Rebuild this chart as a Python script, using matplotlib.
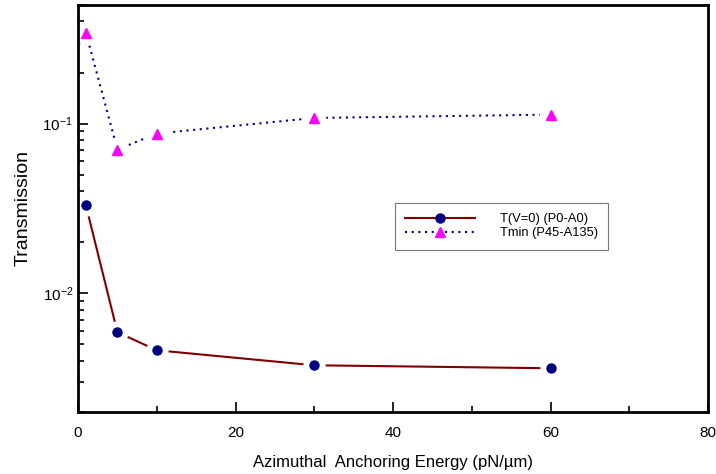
import matplotlib
matplotlib.use("Agg")
import matplotlib.pyplot as plt
from matplotlib.ticker import LogLocator, NullFormatter, MultipleLocator
from matplotlib.lines import Line2D

plt.rcParams['font.family'] = ['Liberation Sans', 'DejaVu Sans']
plt.rcParams['mathtext.fontset'] = 'custom'
plt.rcParams['mathtext.rm'] = 'Liberation Sans'
plt.rcParams['mathtext.it'] = 'Liberation Sans:italic'
plt.rcParams['mathtext.bf'] = 'Liberation Sans:bold'

x = [1, 5, 10, 30, 60]
t_v0 = [0.033, 0.0059, 0.00462, 0.00377, 0.00362]
t_min = [0.343, 0.0703, 0.0874, 0.108, 0.113]

fig = plt.figure(figsize=(7.16, 4.74), dpi=100)
ax = fig.add_axes([0.109, 0.1308, 0.880, 0.8587])

red = '#800000'
navy = '#000080'
mag = '#ff00ff'

ax.plot(x, t_v0, color=red, lw=1.5, zorder=2)
ax.plot(x, t_min, color=navy, lw=1.5, ls=(0, (1, 2.2)), zorder=2)
# white gaps around markers
ax.plot(x, t_v0, ls='none', marker='o', ms=16, mfc='white', mec='none', zorder=3)
ax.plot(x, t_min, ls='none', marker='o', ms=17, mfc='white', mec='none', zorder=3)
ax.plot(x, t_v0, ls='none', marker='o', ms=6.5, mfc=navy, mec=navy, zorder=4)
ax.plot(x, t_min, ls='none', marker='^', ms=7.5, mfc=mag, mec=mag, zorder=4)

ax.set_yscale('log')
ax.set_xlim(0, 80)
ax.set_ylim(0.002, 0.5)
ax.xaxis.set_major_locator(MultipleLocator(20))
ax.xaxis.set_minor_locator(MultipleLocator(10))
ax.yaxis.set_major_locator(LogLocator(base=10, numticks=10))
ax.yaxis.set_minor_locator(LogLocator(base=10, subs=range(2, 10), numticks=20))
ax.yaxis.set_minor_formatter(NullFormatter())

ax.tick_params(which='both', direction='in', top=False, right=False, labelsize=11, width=1.2)
ax.tick_params(which='major', length=7)
ax.tick_params(which='minor', length=4)
ax.tick_params(axis='x', pad=10)
for s in ax.spines.values():
    s.set_linewidth(2)
    s.set_zorder(6)

ax.set_xlabel('Azimuthal  Anchoring Energy (pN/\u00b5m)', fontsize=12, labelpad=11)
ax.set_ylabel('Transmission', fontsize=14, labelpad=8)

handles = [
    Line2D([], [], color=red, lw=1.5, marker='o', ms=6.5, mfc=navy, mec=navy),
    Line2D([], [], color=navy, lw=1.5, ls=(0, (1, 2.2)), marker='^', ms=7.5, mfc=mag, mec=mag),
]
labels = ['T(V=0) (P0-A0)', 'Tmin (P45-A135)']
leg = ax.legend(handles, labels, loc='upper left', bbox_to_anchor=(395/716, 1 - 203/474),
                bbox_transform=fig.transFigure, fontsize=9.3, frameon=True,
                fancybox=False, edgecolor='#555555', handlelength=5.4,
                borderpad=0.8, labelspacing=0.15, handletextpad=1.9, borderaxespad=0)
leg.get_frame().set_linewidth(0.8)
leg.set_zorder(7)

fig.savefig('out.png', dpi=100)
